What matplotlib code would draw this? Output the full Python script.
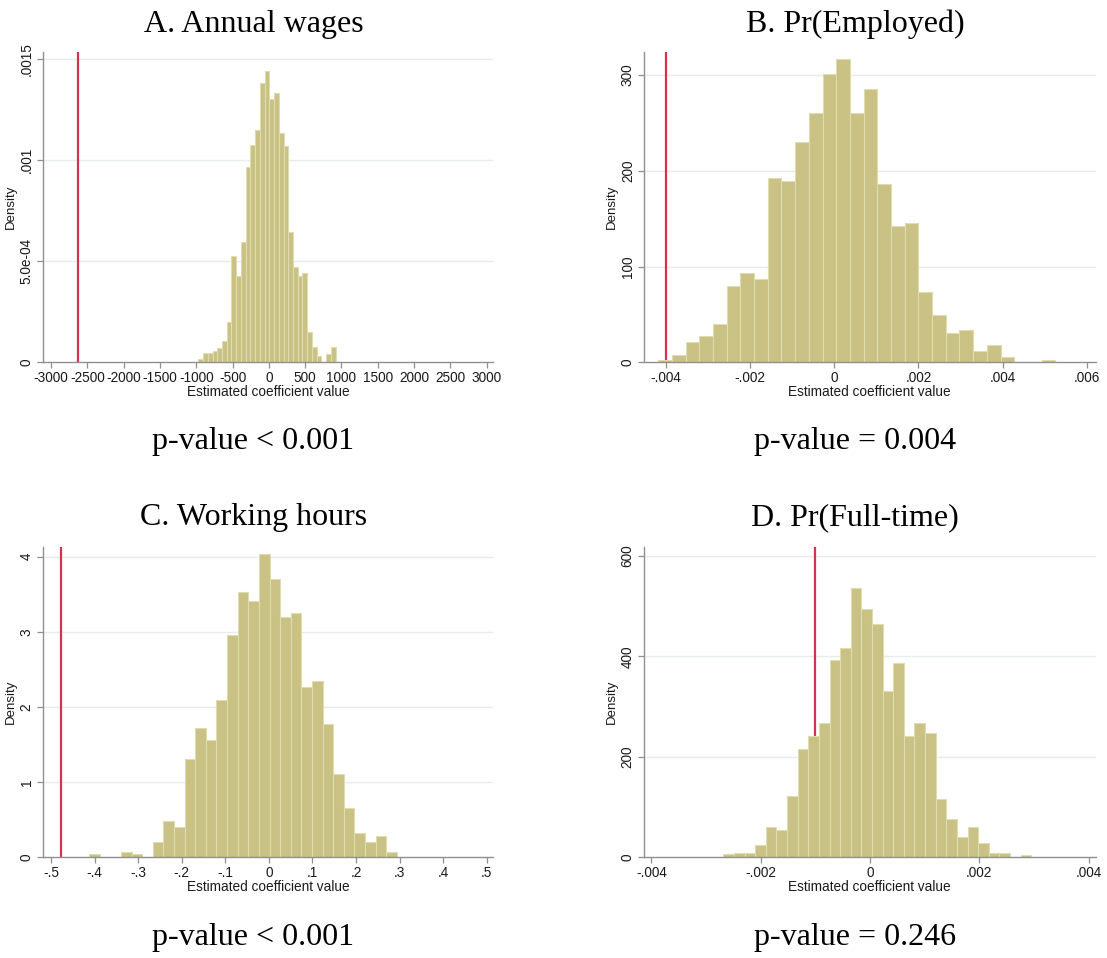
import matplotlib
matplotlib.use('Agg')
import matplotlib.pyplot as plt
import numpy as np

W, H = 1107, 958
DPI = 100

# ---------------- data ----------------
# Panel A: Annual wages
a_title = "A. Annual wages"
a_pvalue = "p-value < 0.001"
a_bin_start = -971.0
a_bin_width = 65.2
a_density = [1.5e-5, 4.5e-5, 4.5e-5, 5.8e-5, 7.0e-5, 1.07e-4, 2.01e-4, 5.26e-4,
             4.27e-4, 5.97e-4, 9.69e-4, 1.076e-3, 1.150e-3, 1.384e-3, 1.444e-3,
             1.304e-3, 1.335e-3, 1.134e-3, 1.073e-3, 6.47e-4, 4.74e-4, 4.27e-4,
             4.44e-4, 1.52e-4, 7.4e-5, 3.1e-5, 0.0, 4.1e-5, 7.4e-5]
a_actual = -2630
a_xticks = [-3000, -2500, -2000, -1500, -1000, -500, 0, 500, 1000, 1500, 2000, 2500, 3000]
a_xticklabels = ["-3000", "-2500", "-2000", "-1500", "-1000", "-500", "0", "500",
                 "1000", "1500", "2000", "2500", "3000"]
a_yticks = [0, 0.0005, 0.001, 0.0015]
a_yticklabels = ["0", "5.0e-04", ".001", ".0015"]

# Panel B: Pr(Employed)
b_title = "B. Pr(Employed)"
b_pvalue = "p-value = 0.004"
b_bin_start = -0.004174
b_bin_width = 0.0003248
b_density = [2.4, 8.0, 21.6, 27.8, 40.0, 80.0, 92.9, 86.7, 192.0, 189.0, 229.7,
             260.7, 301.4, 316.4, 260.7, 285.4, 185.9, 142.4, 145.5, 73.8, 49.4,
             31.0, 33.8, 11.8, 18.4, 5.9, 0.0, 0.0, 2.4]
b_actual = -0.0040
b_xticks = [-0.004, -0.002, 0, 0.002, 0.004, 0.006]
b_xticklabels = ["-.004", "-.002", "0", ".002", ".004", ".006"]
b_yticks = [0, 100, 200, 300]
b_yticklabels = ["0", "100", "200", "300"]

# Panel C: Working hours
c_title = "C. Working hours"
c_pvalue = "p-value < 0.001"
c_bin_start = -0.4124
c_bin_width = 0.02435
c_density = [0.04, 0.0, 0.0, 0.075, 0.04, 0.0, 0.2, 0.483, 0.408, 1.313, 1.725,
             1.557, 2.089, 2.958, 3.53, 3.415, 4.03, 3.70, 3.20, 3.246, 2.26, 2.34,
             1.77, 1.104, 0.66, 0.328, 0.2, 0.288, 0.075]
c_actual = -0.477
c_xticks = [-0.5, -0.4, -0.3, -0.2, -0.1, 0, 0.1, 0.2, 0.3, 0.4, 0.5]
c_xticklabels = ["-.5", "-.4", "-.3", "-.2", "-.1", "0", ".1", ".2", ".3", ".4", ".5"]
c_yticks = [0, 1, 2, 3, 4]
c_yticklabels = ["0", "1", "2", "3", "4"]

# Panel D: Pr(Full-time)
d_title = "D. Pr(Full-time)"
d_pvalue = "p-value = 0.246"
d_bin_start = -0.002683
d_bin_width = 0.0001943
d_density = [5.0, 8.6, 8.6, 23.3, 59.8, 54.5, 121.6, 214.6, 241.2, 267.1, 392.0,
             417.3, 536.9, 494.4, 463.8, 330.3, 386.7, 241.2, 267.1, 246.5, 116.3,
             75.8, 39.9, 59.8, 28.6, 8.0, 8.0, 0.0, 4.0]
d_actual = -0.001
d_xticks = [-0.004, -0.002, 0, 0.002, 0.004]
d_xticklabels = ["-.004", "-.002", "0", ".002", ".004"]
d_yticks = [0, 200, 400, 600]
d_yticklabels = ["0", "200", "400", "600"]

# ---------------- style ----------------
BAR_FILL = '#C9C284'
BAR_EDGE = '#E0DCB2'
RED = '#D9304F'
GRID = '#E4EEEF'
AXIS = '#8F8F8F'
TXT = '#1a1a1a'
SANS = ['Liberation Sans', 'DejaVu Sans']
SERIF = ['Liberation Serif', 'DejaVu Serif']
FS = 9.8

fig = plt.figure(figsize=(W / DPI, H / DPI), dpi=DPI)
fig.patch.set_facecolor('white')


def px_axes(left, right, top, bottom):
    return fig.add_axes([left / W, 1 - bottom / H, (right - left) / W, (bottom - top) / H])


def panel(box, xlim, ylim, start, width, dens, actual, xticks, xtl, yticks, ytl,
          title, title_xy, pval, pval_xy):
    ax = px_axes(*box)
    n = len(dens)
    lefts = start + width * np.arange(n)
    ax.axvline(actual, color=RED, lw=1.6, zorder=1)
    ax.bar(lefts, dens, width=width, align='edge', color=BAR_FILL,
           edgecolor=BAR_EDGE, linewidth=0.8, zorder=2)
    ax.set_xlim(*xlim)
    ax.set_ylim(*ylim)
    ax.set_xticks(xticks)
    ax.set_xticklabels(xtl, fontfamily=SANS, fontsize=FS, color=TXT)
    ax.set_yticks(yticks)
    ax.set_yticklabels(ytl, fontfamily=SANS, fontsize=FS, color=TXT,
                       rotation=90, va='center')
    for v in yticks[1:]:
        ax.axhline(v, color=GRID, lw=1.0, zorder=0)
    for s in ['top', 'right']:
        ax.spines[s].set_visible(False)
    for s in ['left', 'bottom']:
        ax.spines[s].set_color(AXIS)
        ax.spines[s].set_linewidth(1.0)
    ax.tick_params(axis='both', direction='out', length=4, width=0.9, color=AXIS, pad=2.5)
    ax.set_xlabel("Estimated coefficient value", fontfamily=SANS, fontsize=FS,
                  color=TXT, labelpad=0)
    ax.set_ylabel("Density", fontfamily=SANS, fontsize=FS - 0.3, color=TXT, labelpad=2)
    ax.set_facecolor('white')
    fig.text(title_xy[0] / W, 1 - title_xy[1] / H, title, fontfamily=SERIF,
             fontsize=23, ha='center', va='baseline', color='black')
    fig.text(pval_xy[0] / W, 1 - pval_xy[1] / H, pval, fontfamily=SERIF,
             fontsize=23, ha='center', va='baseline', color='black')
    return ax


panel((42.7, 493.3, 51.7, 362.3), (-3114, 3091), (0, 0.001538),
      a_bin_start, a_bin_width, a_density, a_actual,
      a_xticks, a_xticklabels, a_yticks, a_yticklabels,
      a_title, (254, 32), a_pvalue, (253, 449))

panel((644.0, 1095.5, 51.7, 362.3), (-0.004513, 0.0062), (0, 324.3),
      b_bin_start, b_bin_width, b_density, b_actual,
      b_xticks, b_xticklabels, b_yticks, b_yticklabels,
      b_title, (855, 32), b_pvalue, (855, 449))

panel((42.7, 493.3, 546.7, 857.3), (-0.519, 0.515), (0, 4.133),
      c_bin_start, c_bin_width, c_density, c_actual,
      c_xticks, c_xticklabels, c_yticks, c_yticklabels,
      c_title, (254, 525), c_pvalue, (253, 945))

panel((643.7, 1095.5, 546.7, 857.0), (-0.00414, 0.004126), (0, 618.5),
      d_bin_start, d_bin_width, d_density, d_actual,
      d_xticks, d_xticklabels, d_yticks, d_yticklabels,
      d_title, (855, 525), d_pvalue, (855, 945))

fig.savefig('out.png', dpi=DPI, facecolor='white')
